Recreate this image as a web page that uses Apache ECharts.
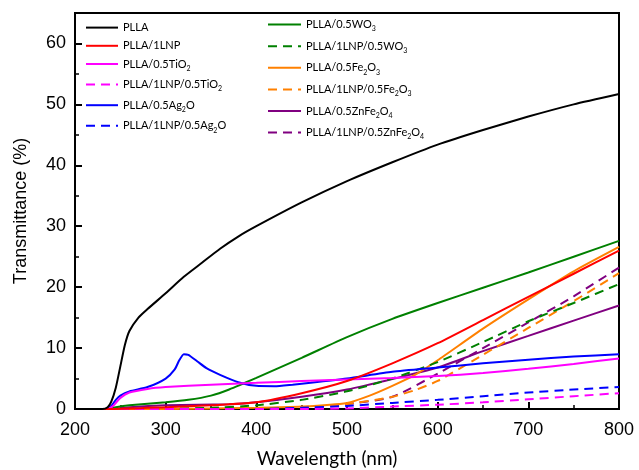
<!DOCTYPE html>
<html>
<head>
<meta charset="utf-8">
<script src="https://cdn.jsdelivr.net/npm/echarts@6/dist/echarts.min.js"></script>
<style>
  html, body { margin: 0; padding: 0; background: #fff; }
  #chart { width: 639px; height: 470px; }
</style>
</head>
<body>
<div id="chart"></div>
<script>
// transmittance readings, [wavelength nm, T %]
const plla = [[200,0],[230,0],[236,0.3],[240,1.2],[245,3.5],[250,7],[255,10.5],[260,12.8],[270,15],[280,16.4],[300,19],[320,21.7],[340,24],[360,26.3],[380,28.3],[400,30],[450,33.9],[500,37.4],[550,40.5],[600,43.4],[650,45.8],[700,48],[750,50],[800,51.7]];
const lnp = [[200,0],[240,0],[300,0.3],[350,0.6],[400,1.1],[450,2.6],[500,4.6],[550,7.5],[600,10.8],[650,14.6],[700,18.4],[750,22.2],[800,26]];
const tio2 = [[200,0],[235,0],[242,0.5],[250,1.8],[260,2.7],[280,3.3],[300,3.6],[350,4],[400,4.3],[450,4.6],[500,4.85],[550,5.1],[600,5.4],[650,5.9],[700,6.6],[750,7.4],[800,8.3]];
const lnpTio2 = [[200,0],[450,0],[500,0.1],[550,0.4],[600,0.7],[650,1.1],[700,1.6],[750,2.1],[800,2.6]];
const ag2o = [[200,0],[235,0],[240,0.5],[245,1.5],[250,2.2],[260,2.9],[280,3.6],[300,5],[310,6.5],[315,8],[320,9],[325,8.9],[335,7.8],[345,6.7],[360,5.6],[380,4.4],[400,3.8],[420,3.75],[440,4],[460,4.3],[500,5],[550,6.1],[600,6.8],[650,7.5],[700,8.1],[750,8.6],[800,9]];
const lnpAg2o = [[200,0],[400,0],[450,0.2],[500,0.5],[550,1],[600,1.5],[650,2.1],[700,2.7],[750,3.2],[800,3.6]];
const wo3 = [[200,0],[235,0],[245,0.3],[260,0.6],[300,1.1],[325,1.5],[350,2.2],[370,3.2],[400,5.1],[450,8.4],[500,11.8],[550,14.8],[600,17.4],[650,19.9],[700,22.4],[750,25],[800,27.6]];
const lnpWo3 = [[200,0],[300,0],[350,0.2],[400,0.6],[450,1.5],[500,2.9],[550,5],[600,7.7],[650,11],[700,14.4],[750,17.4],[800,20.5]];
const fe2o3 = [[200,0],[300,0],[400,0.2],[450,0.4],[500,1],[525,2.2],[550,3.8],[575,5.6],[600,8],[650,13.2],[700,18],[750,22.6],[800,26.6]];
const lnpFe2o3 = [[200,0],[400,0],[450,0.2],[500,0.8],[550,2],[575,3.1],[600,4.6],[650,8.9],[700,13.3],[750,17.7],[800,22.3]];
const znfe = [[200,0],[240,0],[260,0.3],[300,0.6],[370,0.8],[400,1.1],[450,2],[500,3.2],[550,4.9],[600,6.8],[650,9.5],[700,12],[750,14.5],[800,17]];
const lnpZnfe = [[200,0],[400,0.1],[450,0.3],[500,0.8],[550,2],[600,5.8],[650,10],[700,14.2],[750,18.5],[800,23.2]];

const names = ['PLLA', 'PLLA/1LNP', 'PLLA/0.5TiO2', 'PLLA/1LNP/0.5TiO2', 'PLLA/0.5Ag2O', 'PLLA/1LNP/0.5Ag2O',
  'PLLA/0.5WO3', 'PLLA/1LNP/0.5WO3', 'PLLA/0.5Fe2O3', 'PLLA/1LNP/0.5Fe2O3', 'PLLA/0.5ZnFe2O4', 'PLLA/1LNP/0.5ZnFe2O4'];
const values = [plla, lnp, tio2, lnpTio2, ag2o, lnpAg2o, wo3, lnpWo3, fe2o3, lnpFe2o3, znfe, lnpZnfe];
const colors = ['#000000', '#ff0000', '#ff00ff', '#ff00ff', '#0000ff', '#0000ff',
  '#008000', '#008000', '#ff8000', '#ff8000', '#800080', '#800080'];
const dashed = [false, false, false, true, false, true, false, true, false, true, false, true];

const chart = echarts.init(document.getElementById('chart'));

// chemical formula digits -> subscripts
const fmt = (name) => name.replace(/([A-Za-z])(\d)/g, '$1{sub|$2}');

const legendText = {
  fontFamily: 'Lato',
  fontSize: 11,
  color: '#000',
  rich: {
    sub: { fontFamily: 'Lato', fontSize: 7, color: '#000', padding: [9, 0, 0, 0] }
  }
};

const series = names.map((n, i) => ({
  name: n,
  type: 'line',
  data: values[i],
  symbol: 'none',
  smooth: 0.2,
  lineStyle: { color: colors[i], width: 2, type: dashed[i] ? [9, 6] : 'solid' },
  itemStyle: { color: colors[i] },
  z: 12 - i
}));

const option = {
  animation: false,
  grid: {
    left: 75, right: 20, top: 13, bottom: 61,
    outerBoundsMode: 'none',
    show: true, borderColor: '#000', borderWidth: 2
  },
  legend: [
    {
      data: names.slice(0, 6),
      orient: 'vertical',
      left: 85, top: 22, padding: 0,
      itemWidth: 32, itemHeight: 14, itemGap: 7,
      itemStyle: { opacity: 0 },
      formatter: fmt,
      textStyle: legendText
    },
    {
      data: names.slice(6),
      orient: 'vertical',
      left: 267, top: 19, padding: 0,
      itemWidth: 33, itemHeight: 14, itemGap: 8,
      itemStyle: { opacity: 0 },
      formatter: fmt,
      textStyle: legendText
    }
  ],
  xAxis: {
    type: 'value',
    min: 200, max: 800, interval: 100,
    name: 'Wavelength (nm)',
    nameLocation: 'middle',
    nameGap: 40,
    nameTextStyle: { fontFamily: 'Lato', fontSize: 19, color: '#000', padding: [0, 40, 0, 0] },
    axisLine: { lineStyle: { color: '#000', width: 2 } },
    axisTick: { inside: true, length: 7, lineStyle: { color: '#000', width: 2 } },
    minorTick: { show: true, splitNumber: 2, length: 4, lineStyle: { color: '#000', width: 1.5 } },
    axisLabel: { fontFamily: 'Liberation Sans', fontSize: 18, color: '#000', margin: 12 },
    splitLine: { show: false }
  },
  yAxis: [
    {
      type: 'value',
      min: 0, max: 65, interval: 10,
      name: 'Transmittance (%)',
      nameLocation: 'middle',
      nameGap: 45,
      nameTextStyle: { fontFamily: 'Liberation Sans', fontSize: 18, color: '#000' },
      axisLine: { lineStyle: { color: '#000', width: 2 } },
      axisTick: { inside: true, length: 7, lineStyle: { color: '#000', width: 2 } },
      axisLabel: { fontFamily: 'Liberation Sans', fontSize: 18, color: '#000', margin: 9, showMaxLabel: false },
      splitLine: { show: false }
    },
    {
      // minor ticks every 5
      type: 'value',
      min: 0, max: 65, interval: 5,
      position: 'left',
      axisLine: { show: false },
      axisTick: { inside: true, length: 4, lineStyle: { color: '#000', width: 1.5 } },
      axisLabel: { show: false },
      splitLine: { show: false }
    }
  ],
  series: series
};

chart.setOption(option);
</script>
</body>
</html>
